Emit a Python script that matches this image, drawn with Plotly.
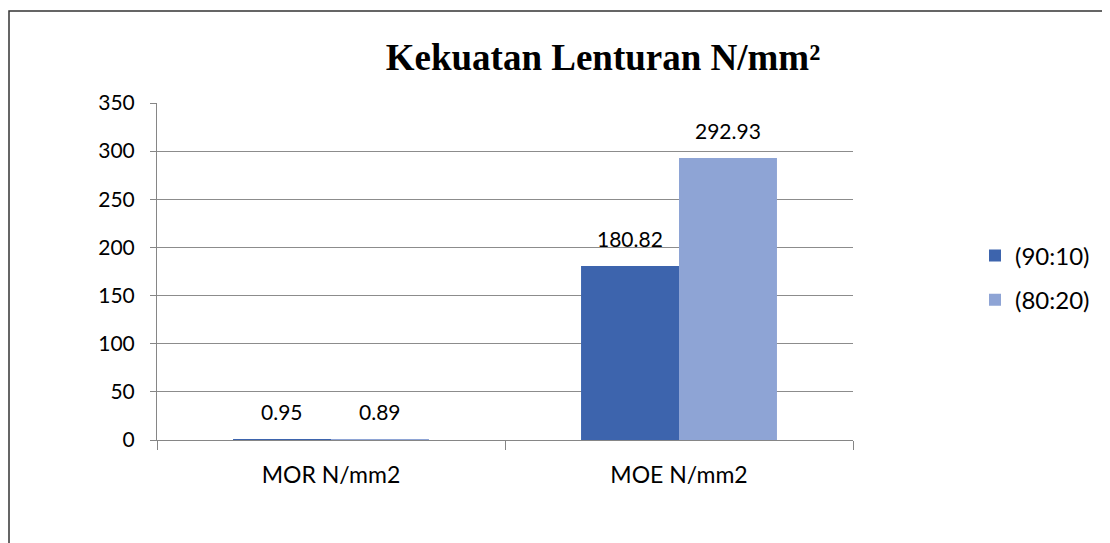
import plotly.graph_objects as go

categories = ["MOR N/mm2", "MOE N/mm2"]
series_names = ["(90:10)", "(80:20)"]
values_9010 = [0.95, 180.82]
values_8020 = [0.89, 292.93]
label_9010 = ["0.95", "180.82"]
label_8020 = ["0.89", "292.93"]
y_ticks = [0, 50, 100, 150, 200, 250, 300, 350]

colors = ["#3d64ad", "#8ea4d5"]
font_family = "Lato"
fs = 21
BARGAP = 0.437

# page offset (body margin) of 8px
OFF = 8
W, H = 1110 - OFF, 543 - OFF
# plot area in screen px: x 157..853, y 103..440
L, R, T, B = 157 - OFF, 853 - OFF, 103 - OFF, 440 - OFF
pw, ph = R - L, B - T

def px(x):
    return (x - OFF - L) / pw

def py(y):
    return (B - (y - OFF)) / ph

fig = go.Figure()
n_series = 2
bw = (1 - BARGAP) / n_series
for si, (name, vals, labs, col) in enumerate(zip(series_names, [values_9010, values_8020],
                                                 [label_9010, label_8020], colors)):
    fig.add_trace(go.Bar(
        x=categories, y=vals, name=name, marker_color=col, marker_line_width=0,
        legendgroup=name,
    ))
    for ci, (v, lab) in enumerate(zip(vals, labs)):
        fig.add_annotation(
            x=ci + (si - (n_series - 1) / 2) * bw, y=v, xref="x", yref="y",
            text=lab, showarrow=False, yanchor="bottom", yshift=13,
            font=dict(family=font_family, size=fs, color="#000000"),
        )

fig.add_shape(type="rect", xref="paper", yref="paper",
              x0=px(9), x1=px(1125), y0=py(11), y1=py(560),
              line=dict(color="#333333", width=1.5), fillcolor="rgba(0,0,0,0)",
              layer="below")

fig.update_layout(
    width=W, height=H,
    margin=dict(l=L, r=W - R, t=T, b=H - B, pad=0),
    paper_bgcolor="white", plot_bgcolor="white",
    barmode="group", bargap=BARGAP, bargroupgap=0,
    title=dict(text="<b>Kekuatan Lenturan N/mm²</b>",
               font=dict(family="Liberation Serif", size=37, color="#000000"),
               x=(603 - OFF) / W, xanchor="center", xref="container",
               y=1 - (57 - OFF) / H, yanchor="middle", yref="container"),
    legend=dict(x=px(975), xanchor="left", y=py(278), yanchor="middle",
                font=dict(family=font_family, size=24, color="#000000"),
                tracegroupgap=10, bgcolor="rgba(0,0,0,0)"),
    xaxis=dict(showline=True, linecolor="#868686", linewidth=1,
               ticks="outside", tickson="boundaries", ticklen=9, tickcolor="#868686",
               tickfont=dict(family=font_family, size=23, color="#000000"),
               ticklabelstandoff=14, showgrid=False, range=[-0.5, 1.5]),
    yaxis=dict(range=[0, 350], tickvals=y_ticks, showline=True, linecolor="#868686",
               linewidth=1, ticks="outside", ticklen=6, tickcolor="#868686",
               showgrid=True, gridcolor="#8c8c8c", gridwidth=1, zeroline=False,
               tickfont=dict(family=font_family, size=fs, color="#000000"),
               ticklabelstandoff=11),
)

fig.write_html("out.html")
